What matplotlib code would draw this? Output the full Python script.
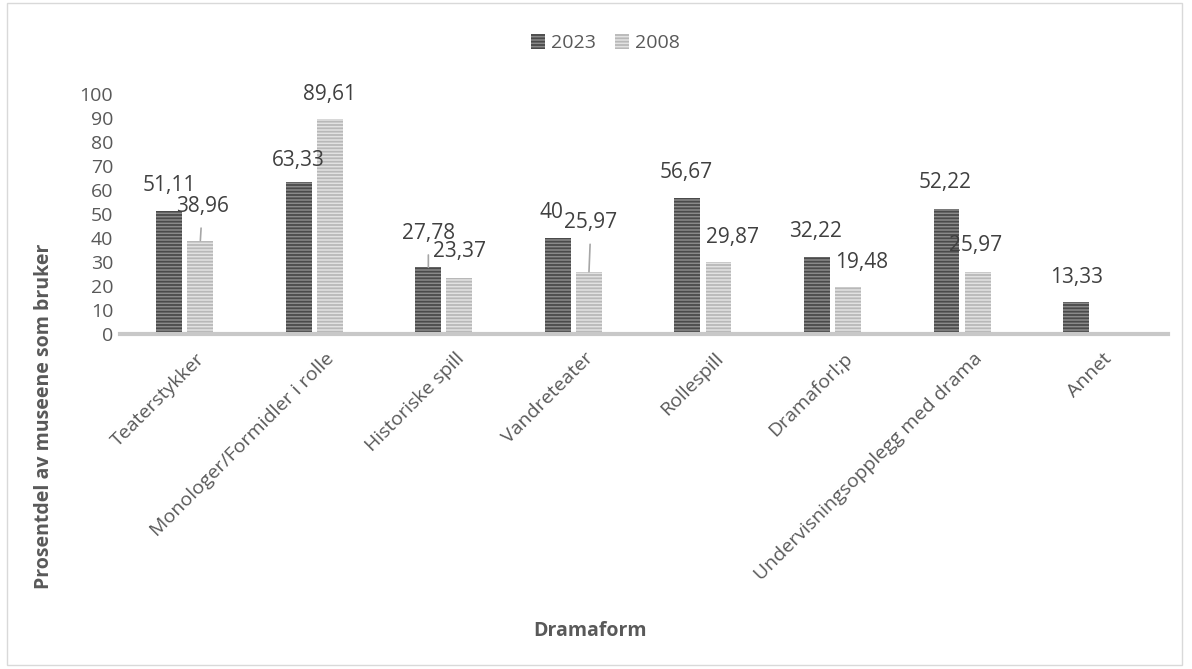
import numpy as np
import matplotlib.pyplot as plt
import matplotlib.transforms as mtransforms
from matplotlib.patches import Patch, Rectangle

plt.rcParams['font.family'] = ['Open Sans', 'DejaVu Sans']
plt.rcParams['hatch.linewidth'] = 1.3

# data
categories = ['Teaterstykker', 'Monologer/Formidler i rolle', 'Historiske spill',
              'Vandreteater', 'Rollespill', 'Dramaforl;p',
              'Undervisningsopplegg med drama', 'Annet']
v2023 = [51.11, 63.33, 27.78, 40, 56.67, 32.22, 52.22, 13.33]
v2008 = [38.96, 89.61, 23.37, 25.97, 29.87, 19.48, 25.97, np.nan]
lab2023 = ['51,11', '63,33', '27,78', '40', '56,67', '32,22', '52,22', '13,33']
lab2008 = ['38,96', '89,61', '23,37', '25,97', '29,87', '19,48', '25,97', '']

# label offsets in pixels (dx, dy) from bar top, and whether a leader line is drawn
off2023 = [(0, 26), (0, 22), (0, 34), (-6, 26), (-1, 26), (-1, 25), (-1, 26), (0, 25)]
off2008 = [(2, 34), (0, 24), (0, 26), (2, 49), (14, 25), (14, 25), (-2, 26), (0, 0)]
lead2023 = [False, False, True, False, False, False, False, False]
lead2008 = [True, False, False, True, False, False, False, False]

fig = plt.figure(figsize=(11.92, 6.69), dpi=100)
ax = fig.add_axes([0.1007, 0.5007, 0.8792, 0.3588])

x = np.arange(len(categories))
w = 0.2
b1 = ax.bar(x - 0.12, v2023, w, color='#8a8a8a', edgecolor='#4a4a4a',
            hatch='-----', linewidth=0, label='2023')
b2 = ax.bar(x + 0.12, v2008, w, color='#e2e2e2', edgecolor='#b8b8b8',
            hatch='-----', linewidth=0, label='2008')

def add_labels(bars, vals, labs, offs, leads):
    for bar, v, lab, (dx, dy), ld in zip(bars, vals, labs, offs, leads):
        if not lab:
            continue
        xc = bar.get_x() + bar.get_width() / 2
        ap = dict(arrowstyle='-', color='#a6a6a6', lw=1.2, shrinkA=6, shrinkB=0) if ld else None
        ax.annotate(lab, (xc, v), xytext=(dx, dy), textcoords='offset pixels',
                    ha='center', va='center', fontsize=15, color='#404040',
                    arrowprops=ap)

add_labels(b1, v2023, lab2023, off2023, lead2023)
add_labels(b2, v2008, lab2008, off2008, lead2008)

ax.set_ylim(0, 100)
ax.set_xlim(-0.5, 7.59)
ax.set_yticks(range(0, 101, 10))
ax.tick_params(axis='y', length=0, labelsize=14, labelcolor='#595959', pad=5)
ax.tick_params(axis='x', length=0, labelsize=14, labelcolor='#595959', pad=6)
ax.set_xticks(x)
ax.set_xticklabels(categories, rotation=45, ha='right', rotation_mode='anchor')
shift = mtransforms.ScaledTranslation(0.11, -0.07, fig.dpi_scale_trans)
for t in ax.get_xticklabels():
    t.set_transform(t.get_transform() + shift)
for s in ['top', 'right', 'left']:
    ax.spines[s].set_visible(False)
ax.spines['bottom'].set_color('#c8c8c8')
ax.spines['bottom'].set_linewidth(3)

fig.text(0.495, 0.057, 'Dramaform', ha='center', va='center', fontsize=14,
         fontweight='bold', color='#595959')
fig.text(0.037, 0.378, 'Prosentdel av museene som bruker', ha='center', va='center',
         rotation=90, fontsize=14, fontweight='bold', color='#595959')

handles = [Patch(facecolor='#8a8a8a', edgecolor='#4a4a4a', hatch='-----', linewidth=0),
           Patch(facecolor='#e2e2e2', edgecolor='#b8b8b8', hatch='-----', linewidth=0)]
fig.legend(handles, ['2023', '2008'], loc='center', bbox_to_anchor=(0.508, 0.936),
           ncol=2, frameon=False, fontsize=14, handlelength=0.7, handleheight=0.8,
           handletextpad=0.3, columnspacing=1.0, labelcolor='#595959')

fig.patches.append(Rectangle((0.006, 0.006), 0.986, 0.99, transform=fig.transFigure,
                             fill=False, edgecolor='#d9d9d9', linewidth=1))

fig.savefig('out.png', dpi=100)
